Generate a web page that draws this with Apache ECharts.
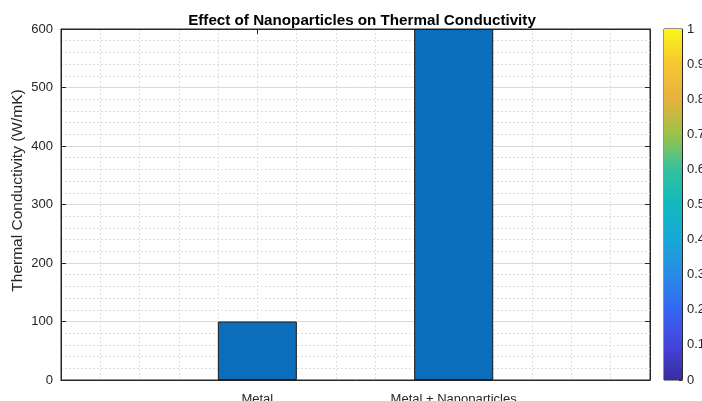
<!DOCTYPE html>
<html>
<head>
<meta charset="utf-8">
<script src="https://cdn.jsdelivr.net/npm/echarts@6/dist/echarts.min.js"></script>
<style>
html,body{margin:0;padding:0;background:#fff;}
#chart{width:702px;height:401px;}
</style>
</head>
<body>
<div id="chart"></div>
<script>
const categories = ['Metal', 'Metal + Nanoparticles'];
const categoryPositions = [1, 2];
const conductivity = [100, 600];
const yTicks = [0, 100, 200, 300, 400, 500, 600];
const colorbarTicks = [0, 0.1, 0.2, 0.3, 0.4, 0.5, 0.6, 0.7, 0.8, 0.9, 1];
const parulaStops = ['#3B2B9E', '#4545DC', '#3566F2', '#2A8AE6', '#17A8D6', '#13B8BE', '#33C19E', '#9CC347', '#E8B03E', '#F7C631', '#F9F61A'];

const FONT = '"Liberation Sans", Arial, Helvetica, sans-serif';
const chart = echarts.init(document.getElementById('chart'));

const gradient = new echarts.graphic.LinearGradient(0, 1, 0, 0,
  parulaStops.map((c, i) => ({ offset: i / (parulaStops.length - 1), color: c })));

const labelMap = {};
categoryPositions.forEach((p, i) => { labelMap[p] = categories[i]; });

const dotted = { color: '#dedede', type: [2, 2], width: 1 };
const frameLine = { show: true, onZero: false, lineStyle: { color: '#262626', width: 1 } };

chart.setOption({
  animation: false,
  backgroundColor: '#fff',
  title: {
    text: 'Effect of Nanoparticles on Thermal Conductivity',
    left: 357, top: 8, textAlign: 'center',
    textStyle: { fontFamily: FONT, fontSize: 15.2, fontWeight: 'bold', color: '#000' }
  },
  grid: [
    { left: 61, top: 29, width: 589, height: 351, show: true, borderColor: '#262626', borderWidth: 1, backgroundColor: '#fff', outerBoundsMode: 'none', containLabel: false },
    { left: 664, top: 29, width: 18, height: 351, show: true, borderColor: '#262626', borderWidth: 1, outerBoundsMode: 'none', containLabel: false }
  ],
  xAxis: [
    {
      type: 'value', gridIndex: 0, min: 0, max: 3, interval: 1,
      axisLine: frameLine,
      axisTick: { show: true, inside: true, length: 5, lineStyle: { color: '#262626' } },
      axisLabel: {
        fontFamily: FONT, fontSize: 13, color: '#262626', margin: 13,
        formatter: v => labelMap[v] || '',
        showMinLabel: false, showMaxLabel: false
      },
      splitLine: { show: true, lineStyle: dotted },
      minorTick: { show: false, splitNumber: 5 },
      minorSplitLine: { show: true, lineStyle: dotted }
    },
    {
      type: 'value', gridIndex: 0, min: 0, max: 3, interval: 1, position: 'top',
      axisLine: frameLine,
      axisTick: { show: true, inside: true, length: 5, lineStyle: { color: '#262626' } },
      axisLabel: { show: false }, splitLine: { show: false }
    },
    {
      type: 'category', gridIndex: 1, data: ['cb'], show: false
    }
  ],
  yAxis: [
    {
      type: 'value', gridIndex: 0, min: yTicks[0], max: yTicks[yTicks.length - 1], interval: 100,
      name: 'Thermal Conductivity (W/mK)', nameLocation: 'middle', nameGap: 35, nameMoveOverlap: false,
      nameTextStyle: { fontFamily: FONT, fontSize: 15.5, color: '#262626', padding: [0, 0, 0, 28] },
      axisLine: frameLine,
      axisTick: { show: true, inside: true, length: 5, lineStyle: { color: '#262626' } },
      axisLabel: { fontFamily: FONT, fontSize: 13, color: '#262626', margin: 8 },
      splitLine: { show: true, lineStyle: { color: '#d9d9d9', width: 1 } },
      minorTick: { show: false, splitNumber: 5 },
      minorSplitLine: { show: true, lineStyle: dotted }
    },
    {
      type: 'value', gridIndex: 0, min: 0, max: 600, interval: 100, position: 'right',
      axisLine: frameLine,
      axisTick: { show: true, inside: true, length: 5, lineStyle: { color: '#262626' } },
      axisLabel: { show: false }, splitLine: { show: false }
    },
    {
      type: 'value', gridIndex: 1, min: 0, max: 1, interval: 0.1, position: 'right',
      axisLine: frameLine,
      axisTick: { show: true, inside: true, length: 3, lineStyle: { color: '#262626' } },
      axisLabel: { fontFamily: FONT, fontSize: 13, color: '#262626', margin: 5,
        formatter: v => String(Math.round(v * 10) / 10) },
      splitLine: { show: false }
    }
  ],
  series: [
    {
      type: 'bar', xAxisIndex: 0, yAxisIndex: 0,
      data: categoryPositions.map((p, i) => [p, conductivity[i]]),
      barWidth: 79,
      itemStyle: { color: '#0A6EBD', borderColor: '#1a1a1a', borderWidth: 1 },
      z: 3
    },
    {
      type: 'bar', xAxisIndex: 2, yAxisIndex: 2,
      data: [colorbarTicks[colorbarTicks.length - 1]],
      barWidth: '100%',
      itemStyle: { color: gradient },
      z: 1
    }
  ]
});
</script>
</body>
</html>
